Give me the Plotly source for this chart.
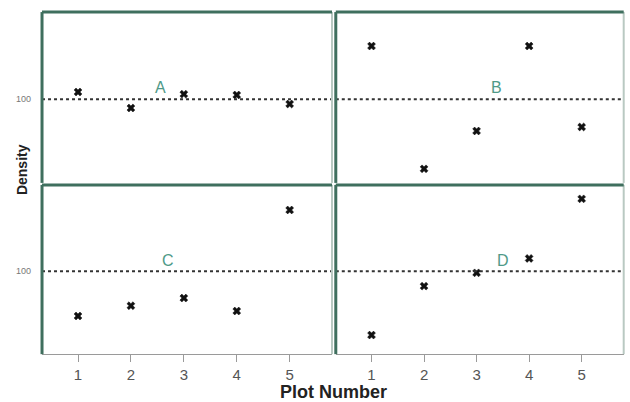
import plotly.graph_objects as go

# Dane
plot_number = [1, 2, 3, 4, 5]
density_a = [104.3, 94.7, 103.0, 102.5, 97.1]
density_b = [131.7, 58.4, 81.0, 131.7, 83.4]
density_c = [73.0, 79.2, 83.8, 76.0, 136.9]
density_d = [61.5, 91.0, 99.0, 107.7, 143.6]
panel_labels = ["A", "B", "C", "D"]
label_x = [2.55, 3.38, 2.7, 3.5]
label_y = 106.7
ref_level = 100

GREEN = "#3f6f5e"
LIGHT = "#b9c9c2"
GRAY = "#9a9a9a"
LABEL_COLOR = "#4f9a88"

X_RANGE = [0.32, 5.8]
Y_RANGE = [50, 152]

# panel: (x domain, y domain)
panels = [
    ([0.0667, 0.527], [0.545, 0.970]),
    ([0.533, 0.990], [0.545, 0.970]),
    ([0.0667, 0.527], [0.119, 0.540]),
    ([0.533, 0.990], [0.119, 0.540]),
]
series = [density_a, density_b, density_c, density_d]

fig = go.Figure()

for i, ((xd, yd), vals) in enumerate(zip(panels, series)):
    n = "" if i == 0 else str(i + 1)
    bottom = i >= 2
    left = i % 2 == 0
    fig.add_trace(go.Scatter(
        x=plot_number, y=vals, mode="markers",
        marker=dict(symbol="x", size=7, color="#111",
                    line=dict(width=0.5, color="#111")),
        xaxis="x" + n, yaxis="y" + n, showlegend=False,
    ))
    fig.update_layout(**{
        "xaxis" + n: dict(
            domain=xd, range=X_RANGE, anchor="y" + n,
            showgrid=False, zeroline=False,
            tickvals=plot_number if bottom else [],
            showticklabels=bottom,
            ticks="outside" if bottom else "", ticklen=7, tickwidth=1,
            tickcolor=GRAY,
            showline=bottom, linecolor=GRAY, linewidth=1,
            tickfont=dict(size=15, color="#555"),
        ),
        "yaxis" + n: dict(
            domain=yd, range=Y_RANGE, anchor="x" + n,
            showgrid=False, zeroline=False,
            tickvals=[ref_level] if left else [],
            showticklabels=left, ticks="", ticklabelstandoff=10,
            tickfont=dict(size=9, color="#777"),
        ),
    })
    # linia odniesienia 100
    fig.add_shape(type="line", xref="x" + n + " domain", yref="y" + n,
                  x0=0, x1=1, y0=ref_level, y1=ref_level,
                  line=dict(color="#333", width=2, dash="dot"))
    # ramki paneli
    x0, x1 = xd
    y0, y1 = yd
    fig.add_shape(type="line", xref="paper", yref="paper",
                  x0=x1, x1=x1, y0=y0, y1=y1,
                  line=dict(color=LIGHT, width=2))
    fig.add_shape(type="line", xref="paper", yref="paper",
                  x0=x0, x1=x1, y0=y1, y1=y1,
                  line=dict(color=GREEN, width=3))
    fig.add_shape(type="line", xref="paper", yref="paper",
                  x0=x0, x1=x0, y0=y0, y1=y1,
                  line=dict(color=GREEN, width=3))
    fig.add_annotation(x=label_x[i], y=label_y, xref="x" + n, yref="y" + n,
                       text=panel_labels[i], showarrow=False,
                       font=dict(size=16, color=LABEL_COLOR))

fig.add_annotation(x=0.529, y=0.025, xref="paper", yref="paper",
                   xanchor="center", yanchor="middle",
                   text="<b>Plot Number</b>", showarrow=False,
                   font=dict(size=18, color="#222"))
fig.add_annotation(x=0.035, y=0.577, xref="paper", yref="paper",
                   xanchor="center", yanchor="middle",
                   text="<b>Density</b>", showarrow=False, textangle=-90,
                   font=dict(size=14, color="#222"))

fig.update_layout(
    width=630, height=402,
    margin=dict(l=0, r=0, t=0, b=0),
    plot_bgcolor="white", paper_bgcolor="white",
    font=dict(family="Liberation Sans, Arial, sans-serif"),
)

fig.write_html("out.html", config={"displayModeBar": False},
               post_script="document.body.style.margin='0';")
